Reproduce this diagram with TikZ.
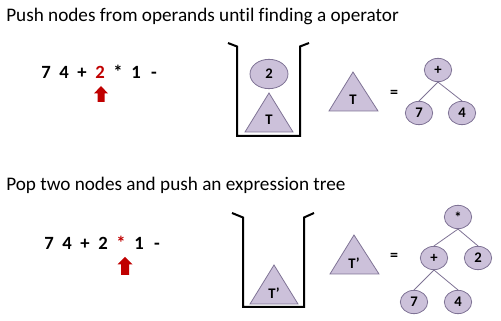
\documentclass[tikz,border=0pt]{standalone}
\usepackage{fontspec}
\setmainfont{Carlito}[Ligatures={NoCommon,NoRequired,NoContextual}]
\usetikzlibrary{shapes.geometric}
\definecolor{nodefill}{HTML}{CCC1DA}
\definecolor{nodeline}{HTML}{7F7395}
\definecolor{arrowred}{HTML}{C00000}
\tikzset{
  title/.style={anchor=base west, inner sep=0pt, font=\fontsize{14.4}{16}\selectfont},
  expr/.style={inner sep=0pt, font=\bfseries\fontsize{14}{16}\selectfont},
  treenode/.style={ellipse, draw=nodeline, fill=nodefill, line width=0.6pt, inner sep=0pt,
    minimum width=20.5pt, minimum height=17.5pt, font=\bfseries\fontsize{11}{12}\selectfont},
  tri/.style={draw=nodeline, fill=nodefill, line width=0.6pt},
  trilabel/.style={inner sep=0pt, font=\bfseries\fontsize{11}{12}\selectfont},
  stackwall/.style={draw=black, line width=1.5pt, line join=miter},
  treeedge/.style={draw=nodeline, line width=0.6pt},
  uparrow/.style={fill=arrowred, draw=none},
  eqsign/.style={inner sep=0pt, font=\bfseries\fontsize{12}{12}\selectfont}
}
\newcommand{\ch}[1]{\makebox[13.5pt]{#1}}
\begin{document}
\begin{tikzpicture}[x=0.75pt,y=-0.75pt]
\useasboundingbox (0,0) rectangle (501,321);
% ---------- section 1 ----------
\node[title] (t1) at (6,22) {Push nodes from operands until finding a operator};
\node[expr] (e1) at (100,72) {\ch{7}\ch{4}\ch{+}\ch{\textcolor{arrowred}{2}}\ch{*}\ch{1}\ch{-}};
\fill[uparrow] (101,86) -- (108,93.5) -- (104.5,93.5) -- (104.5,102) -- (97.5,102) -- (97.5,93.5) -- (94,93.5) -- cycle;
% stack 1
\draw[stackwall] (228,43) -- (237,46.5) -- (237,136) -- (300,136) -- (300,46.5) -- (309,43);
\node[treenode, minimum width=28.5pt, minimum height=22pt] (s2) at (269,74) {2};
\draw[tri] (269,93) -- (293,132) -- (245,132) -- cycle;
\node[trilabel] (sT) at (269,120) {T};
% T triangle
\draw[tri] (353,72) -- (378,111) -- (329,111) -- cycle;
\node[trilabel] (oT) at (353,100) {T};
\node[eqsign] (eq1) at (394,94) {=};
% tree 1
\node[treenode] (p1) at (438,70) {+};
\node[treenode] (a1) at (419,113) {7};
\node[treenode] (b1) at (462,113) {4};
\draw[treeedge] (p1.south) -- (a1.north);
\draw[treeedge] (p1.south) -- (b1.north);
% ---------- section 2 ----------
\node[title] (t2) at (6,191) {Pop two nodes and push an expression tree};
\node[expr] (e2) at (103,243) {\ch{7}\ch{4}\ch{+}\ch{2}\ch{\textcolor{arrowred}{*}}\ch{1}\ch{-}};
\fill[uparrow] (125,257) -- (132.5,264.5) -- (129,264.5) -- (129,275) -- (121,275) -- (121,264.5) -- (117.5,264.5) -- cycle;
% stack 2
\draw[stackwall] (232,213) -- (243,217.5) -- (243,307) -- (304,307) -- (304,217.5) -- (314,213);
\draw[tri] (274,265) -- (298,304) -- (250,304) -- cycle;
\node[trilabel] (sT2) at (274,293) {T’};
% T' triangle
\draw[tri] (354,235) -- (379,274) -- (330,274) -- cycle;
\node[trilabel] (oT2) at (354,263) {T’};
\node[eqsign] (eq2) at (394,257) {=};
% tree 2
\node[treenode] (m2) at (458,217) {*};
\node[treenode] (p2) at (434,258) {+};
\node[treenode] (c2) at (478,258) {2};
\node[treenode] (a2) at (414,302) {7};
\node[treenode] (b2) at (458,302) {4};
\draw[treeedge] (m2.south) -- (p2.north);
\draw[treeedge] (m2.south) -- (c2.north);
\draw[treeedge] (p2.south) -- (a2.north);
\draw[treeedge] (p2.south) -- (b2.north);
\end{tikzpicture}
\end{document}
